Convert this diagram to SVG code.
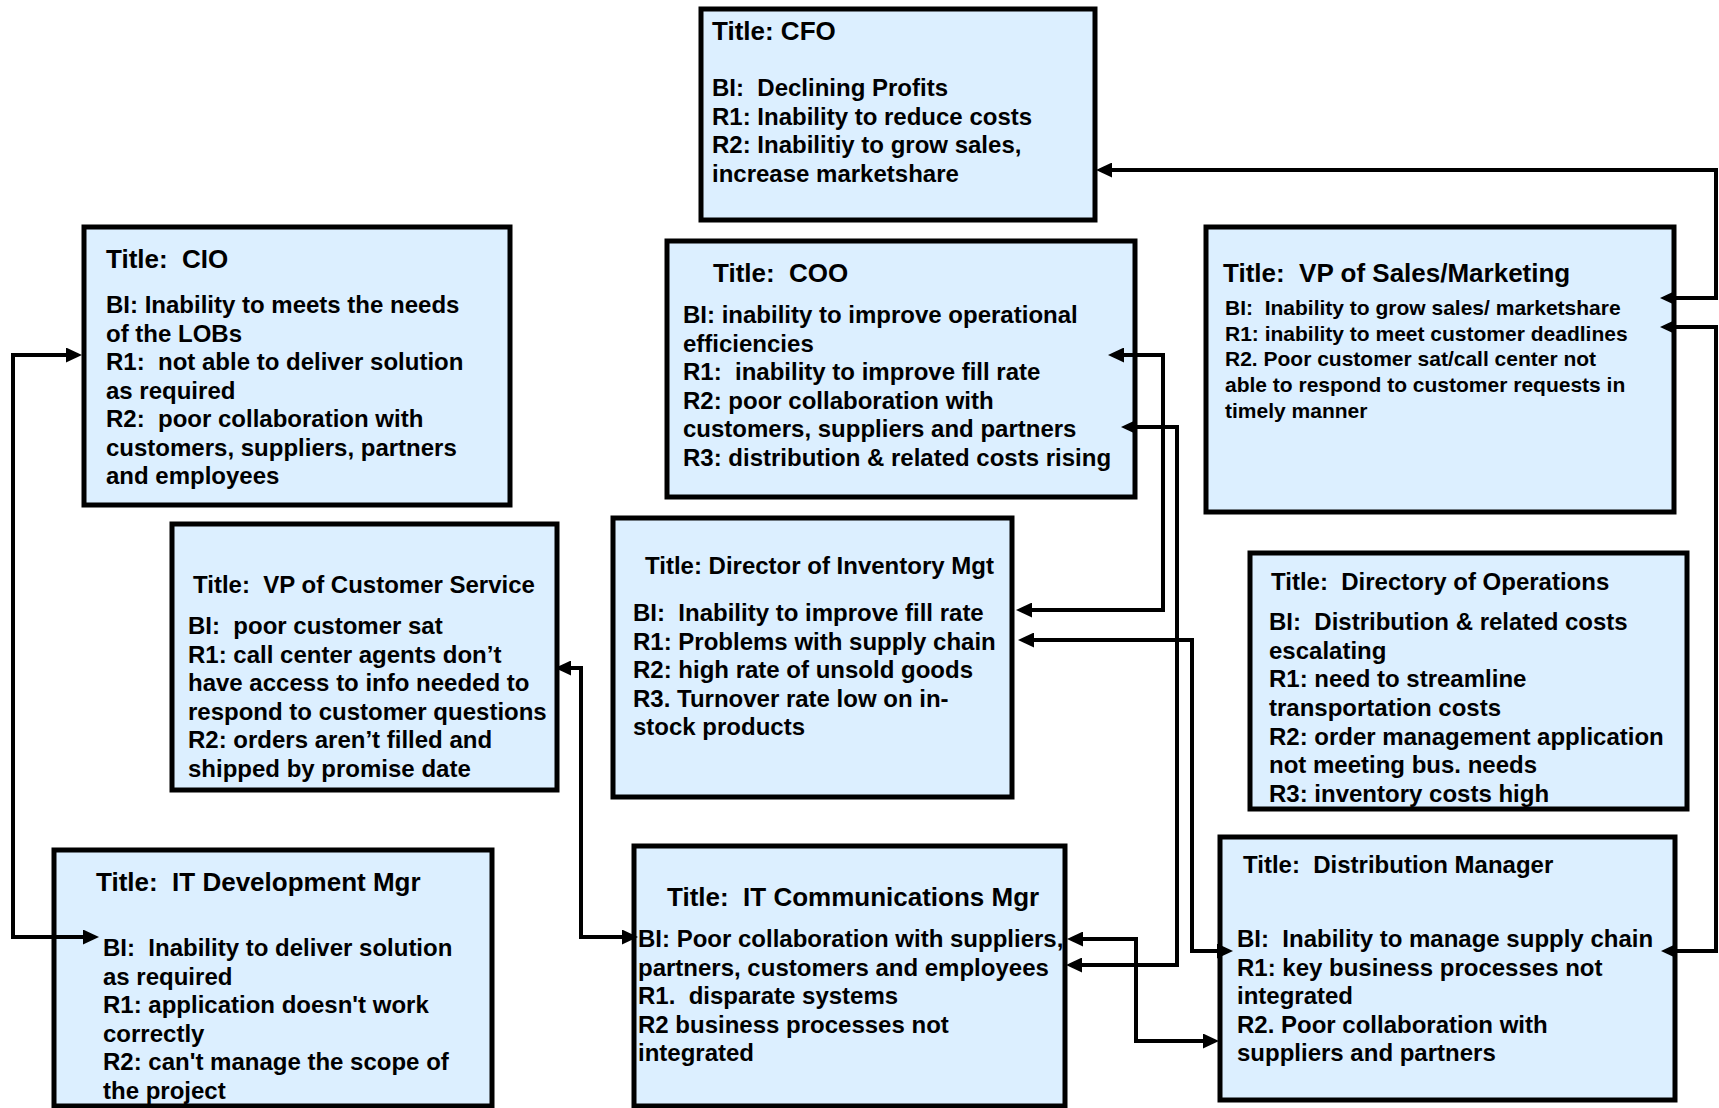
<svg xmlns="http://www.w3.org/2000/svg" width="1719" height="1108" viewBox="0 0 1719 1108">
<defs>
<style>
.box{fill:#dcefff;stroke:#000;stroke-width:5}
.t{font-family:"Liberation Sans",Arial,Helvetica,sans-serif;font-weight:bold;fill:#000;white-space:pre}
.s26{font-size:26px}.s24{font-size:24px}.s21{font-size:21px}
.conn{fill:none;stroke:#000;stroke-width:4;stroke-linejoin:miter}
</style>
<marker id="ah" markerUnits="userSpaceOnUse" markerWidth="16" markerHeight="15" refX="8" refY="7.5" orient="auto-start-reverse" viewBox="0 0 16 15">
<path d="M0,0 L16,7.5 L0,15 z" fill="#000"/>
</marker>
</defs>
<rect width="1719" height="1108" fill="#fff"/>

<g id="cfo">
<rect class="box" x="701" y="9" width="394" height="211"/>
<text class="t s26" x="712" y="40">Title: CFO</text>
<text class="t s24" x="712" y="96">BI: &#160;Declining Profits</text>
<text class="t s24" x="712" y="124.5">R1: Inability to reduce costs</text>
<text class="t s24" x="712" y="153">R2: Inabilitiy to grow sales,</text>
<text class="t s24" x="712" y="181.5">increase marketshare</text>
</g>

<g id="cio">
<rect class="box" x="84" y="227" width="426" height="278"/>
<text class="t s26" x="106" y="268">Title: &#160;CIO</text>
<text class="t s24" x="106" y="313">BI: Inability to meets the needs</text>
<text class="t s24" x="106" y="341.5">of the LOBs</text>
<text class="t s24" x="106" y="370">R1: &#160;not able to deliver solution</text>
<text class="t s24" x="106" y="398.5">as required</text>
<text class="t s24" x="106" y="427">R2: &#160;poor collaboration with</text>
<text class="t s24" x="106" y="455.5">customers, suppliers, partners</text>
<text class="t s24" x="106" y="484">and employees</text>
</g>

<g id="coo">
<rect class="box" x="667" y="241" width="468" height="256"/>
<text class="t s26" x="713" y="282">Title: &#160;COO</text>
<text class="t s24" x="683" y="323">BI: inability to improve operational</text>
<text class="t s24" x="683" y="351.5">efficiencies</text>
<text class="t s24" x="683" y="380">R1: &#160;inability to improve fill rate</text>
<text class="t s24" x="683" y="408.5">R2: poor collaboration with</text>
<text class="t s24" x="683" y="437">customers, suppliers and partners</text>
<text class="t s24" x="683" y="465.5">R3: distribution &amp; related costs rising</text>
</g>

<g id="vp-sales">
<rect class="box" x="1206" y="227" width="468" height="285"/>
<text class="t s26" x="1223" y="282">Title: &#160;VP of Sales/Marketing</text>
<text class="t s21" x="1225" y="315">BI: &#160;Inability to grow sales/ marketshare</text>
<text class="t s21" x="1225" y="340.7">R1: inability to meet customer deadlines</text>
<text class="t s21" x="1225" y="366.4">R2. Poor customer sat/call center not</text>
<text class="t s21" x="1225" y="392">able to respond to customer requests in</text>
<text class="t s21" x="1225" y="417.8">timely manner</text>
</g>

<g id="vp-customer-service">
<rect class="box" x="172" y="524" width="385" height="266"/>
<text class="t s24" x="193" y="593">Title: &#160;VP of Customer Service</text>
<text class="t s24" x="188" y="634">BI: &#160;poor customer sat</text>
<text class="t s24" x="188" y="662.5">R1: call center agents don’t</text>
<text class="t s24" x="188" y="691">have access to info needed to</text>
<text class="t s24" x="188" y="719.5">respond to customer questions</text>
<text class="t s24" x="188" y="748">R2: orders aren’t filled and</text>
<text class="t s24" x="188" y="776.5">shipped by promise date</text>
</g>

<g id="inventory">
<rect class="box" x="613" y="518" width="399" height="279"/>
<text class="t s24" x="645" y="574">Title: Director of Inventory Mgt</text>
<text class="t s24" x="633" y="621">BI: &#160;Inability to improve fill rate</text>
<text class="t s24" x="633" y="649.5">R1: Problems with supply chain</text>
<text class="t s24" x="633" y="678">R2: high rate of unsold goods</text>
<text class="t s24" x="633" y="706.5">R3. Turnover rate low on in-</text>
<text class="t s24" x="633" y="735">stock products</text>
</g>

<g id="operations">
<rect class="box" x="1250" y="553" width="437" height="256"/>
<text class="t s24" x="1271" y="590">Title: &#160;Directory of Operations</text>
<text class="t s24" x="1269" y="630">BI: &#160;Distribution &amp; related costs</text>
<text class="t s24" x="1269" y="658.7">escalating</text>
<text class="t s24" x="1269" y="687.3">R1: need to streamline</text>
<text class="t s24" x="1269" y="716">transportation costs</text>
<text class="t s24" x="1269" y="744.5">R2: order management application</text>
<text class="t s24" x="1269" y="773">not meeting bus. needs</text>
<text class="t s24" x="1269" y="801.5">R3: inventory costs high</text>
</g>

<g id="it-dev">
<rect class="box" x="54" y="850" width="438" height="256"/>
<text class="t s26" x="96" y="891">Title: &#160;IT Development Mgr</text>
<text class="t s24" x="103" y="956">BI: &#160;Inability to deliver solution</text>
<text class="t s24" x="103" y="984.5">as required</text>
<text class="t s24" x="103" y="1013">R1: application doesn't work</text>
<text class="t s24" x="103" y="1041.5">correctly</text>
<text class="t s24" x="103" y="1070">R2: can't manage the scope of</text>
<text class="t s24" x="103" y="1098.5">the project</text>
</g>

<g id="it-comm">
<rect class="box" x="634" y="846" width="431" height="260"/>
<text class="t s26" x="667" y="906">Title: &#160;IT Communications Mgr</text>
<text class="t s24" x="638" y="947">BI: Poor collaboration with suppliers,</text>
<text class="t s24" x="638" y="975.5">partners, customers and employees</text>
<text class="t s24" x="638" y="1004">R1. &#160;disparate systems</text>
<text class="t s24" x="638" y="1032.5">R2 business processes not</text>
<text class="t s24" x="638" y="1061">integrated</text>
</g>

<g id="distribution">
<rect class="box" x="1220" y="837" width="455" height="263"/>
<text class="t s24" x="1243" y="873">Title: &#160;Distribution Manager</text>
<text class="t s24" x="1237" y="947">BI: &#160;Inability to manage supply chain</text>
<text class="t s24" x="1237" y="975.5">R1: key business processes not</text>
<text class="t s24" x="1237" y="1004">integrated</text>
<text class="t s24" x="1237" y="1032.5">R2. Poor collaboration with</text>
<text class="t s24" x="1237" y="1061">suppliers and partners</text>
</g>

<g id="connectors">
<path class="conn" d="M1104,170 H1716 V298 H1668" marker-start="url(#ah)" marker-end="url(#ah)"/>
<path class="conn" d="M1668,327 H1716 V951 H1669" marker-start="url(#ah)" marker-end="url(#ah)"/>
<path class="conn" d="M74,355 H13 V937 H91" marker-start="url(#ah)" marker-end="url(#ah)"/>
<path class="conn" d="M563,668 H581 V937 H630" marker-start="url(#ah)" marker-end="url(#ah)"/>
<path class="conn" d="M1116,355 H1163 V610 H1024" marker-start="url(#ah)" marker-end="url(#ah)"/>
<path class="conn" d="M1129,427 H1177 V965 H1074" marker-start="url(#ah)" marker-end="url(#ah)"/>
<path class="conn" d="M1026,640 H1192 V951 H1225" marker-start="url(#ah)" marker-end="url(#ah)"/>
<path class="conn" d="M1075,939 H1136 V1041 H1211" marker-start="url(#ah)" marker-end="url(#ah)"/>
</g>
</svg>
